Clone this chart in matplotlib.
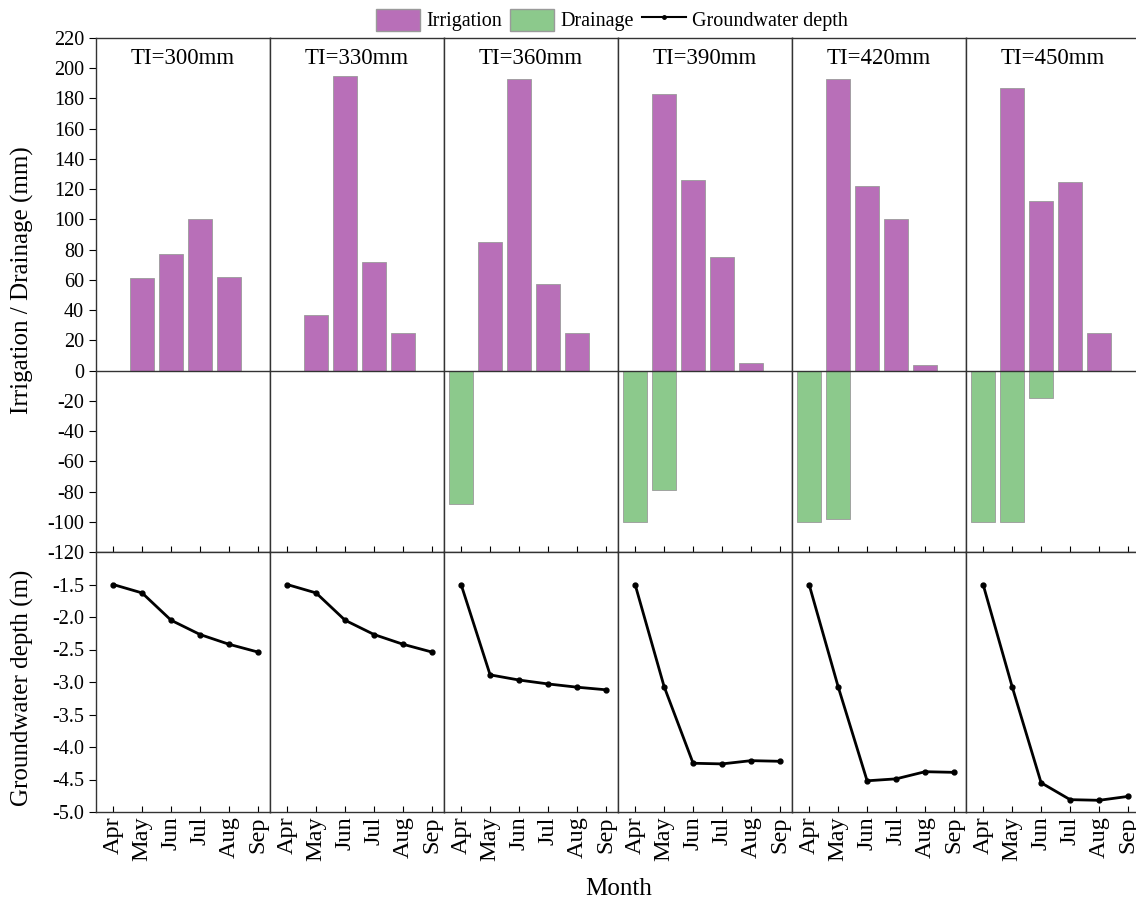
import matplotlib.pyplot as plt
import numpy as np
from matplotlib.patches import Patch
from matplotlib.lines import Line2D

plt.rcParams['font.family'] = ['Liberation Serif', 'DejaVu Serif']
plt.rcParams['axes.unicode_minus'] = False

months = ['Apr', 'May', 'Jun', 'Jul', 'Aug', 'Sep']
titles = ['TI=300mm', 'TI=330mm', 'TI=360mm', 'TI=390mm', 'TI=420mm', 'TI=450mm']

# irrigation (mm) per month, per scenario
irr_300 = [0, 61, 77, 100, 62, 0]
irr_330 = [0, 37, 195, 72, 25, 0]
irr_360 = [0, 85, 193, 57, 25, 0]
irr_390 = [0, 183, 126, 75, 5, 0]
irr_420 = [0, 193, 122, 100, 4, 0]
irr_450 = [0, 187, 112, 125, 25, 0]

# drainage (mm), negative
drn_300 = [0, 0, 0, 0, 0, 0]
drn_330 = [0, 0, 0, 0, 0, 0]
drn_360 = [-88, 0, 0, 0, 0, 0]
drn_390 = [-100, -79, 0, 0, 0, 0]
drn_420 = [-100, -98, 0, 0, 0, 0]
drn_450 = [-100, -100, -18, 0, 0, 0]

# groundwater depth (m)
gw_300 = [-1.50, -1.63, -2.05, -2.27, -2.42, -2.54]
gw_330 = [-1.50, -1.63, -2.05, -2.27, -2.42, -2.54]
gw_360 = [-1.50, -2.89, -2.97, -3.03, -3.08, -3.12]
gw_390 = [-1.50, -3.07, -4.25, -4.26, -4.21, -4.22]
gw_420 = [-1.50, -3.07, -4.52, -4.49, -4.38, -4.39]
gw_450 = [-1.50, -3.07, -4.55, -4.81, -4.82, -4.76]

irr = [irr_300, irr_330, irr_360, irr_390, irr_420, irr_450]
drn = [drn_300, drn_330, drn_360, drn_390, drn_420, drn_450]
gw = [gw_300, gw_330, gw_360, gw_390, gw_420, gw_450]

c_irr = '#b86fb8'
c_drn = '#8cc98c'

W, H = 1136, 900
fig = plt.figure(figsize=(W / 100, H / 100), dpi=100)

x = np.arange(6)
left0 = 96
pw = 174
top_y0, top_y1 = 38, 552
bot_y1 = 812
gw_ticks = [-1.5, -2.0, -2.5, -3.0, -3.5, -4.0, -4.5, -5.0]

for i in range(6):
    l = (left0 + i * pw) / W
    w = pw / W
    ax1 = fig.add_axes([l, 1 - top_y1 / H, w, (top_y1 - top_y0) / H])
    ax2 = fig.add_axes([l, 1 - bot_y1 / H, w, (bot_y1 - top_y1) / H])

    ax1.bar(x, irr[i], width=0.83, color=c_irr, edgecolor='#9a9a9a', linewidth=0.6)
    ax1.bar(x, drn[i], width=0.83, color=c_drn, edgecolor='#9a9a9a', linewidth=0.6)
    ax1.axhline(0, color='#333333', lw=1)
    ax1.set_ylim(-120, 220)
    ax1.set_xlim(-0.59, 5.41)
    ax1.set_xticks(x)
    ax1.set_xticklabels([])
    ax1.tick_params(axis='x', direction='in', length=4)
    ax1.set_yticks(np.arange(-120, 221, 20))
    ax1.text(0.5, 0.961, titles[i], transform=ax1.transAxes, ha='center', va='center', fontsize=16.5)

    ax2.plot(x, gw[i], color='black', lw=2, marker='o', ms=3.5)
    ax2.set_ylim(-5.0, -1.0)
    ax2.set_xlim(-0.59, 5.41)
    ax2.set_xticks(x)
    ax2.set_xticklabels(months, rotation=90, fontsize=17.5)
    ax2.tick_params(axis='x', direction='in', length=4, pad=3)
    ax2.set_yticks(gw_ticks)
    ax2.set_yticklabels(['%.1f' % v for v in gw_ticks])

    for ax in (ax1, ax2):
        for s in ax.spines.values():
            s.set_color('#333333')
            s.set_linewidth(1)
        if i == 0:
            ax.tick_params(axis='y', direction='out', length=5, labelsize=14.5)
        else:
            ax.tick_params(axis='y', left=False, labelleft=False)

fig.text(22 / W, 1 - 280 / H, 'Irrigation / Drainage (mm)', rotation=90, ha='center', va='center', fontsize=18)
fig.text(22 / W, 1 - 688 / H, 'Groundwater depth (m)', rotation=90, ha='center', va='center', fontsize=18)
fig.text(619 / W, 1 - 889 / H, 'Month', ha='center', va='center', fontsize=18)

handles = [Patch(facecolor=c_irr, edgecolor='#9a9a9a', label='Irrigation'),
           Patch(facecolor=c_drn, edgecolor='#9a9a9a', label='Drainage'),
           Line2D([0], [0], color='black', lw=1.5, marker='o', ms=2.5, label='Groundwater depth')]
fig.legend(handles=handles, loc='center', bbox_to_anchor=(612 / W, 1 - 20 / H), ncol=3,
           frameon=False, fontsize=14.5, handlelength=2.2, handleheight=1.3,
           columnspacing=0.4, handletextpad=0.3, borderpad=0)

fig.savefig('out.png', dpi=100)
